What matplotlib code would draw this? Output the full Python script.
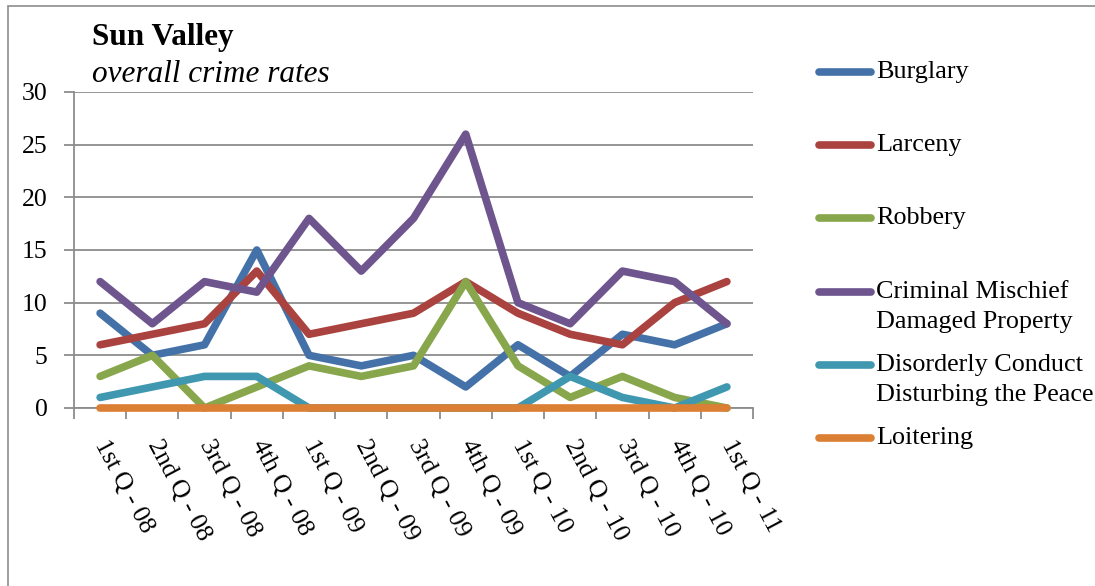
import matplotlib.pyplot as plt
import numpy as np
from matplotlib.lines import Line2D
from matplotlib.patches import Rectangle

plt.rcParams['font.family'] = ['Liberation Serif', 'DejaVu Serif']

# Datos del gráfico
quarters = ["1st Q - 08", "2nd Q - 08", "3rd Q - 08", "4th Q - 08",
            "1st Q - 09", "2nd Q - 09", "3rd Q - 09", "4th Q - 09",
            "1st Q - 10", "2nd Q - 10", "3rd Q - 10", "4th Q - 10",
            "1st Q - 11"]
burglary = [9, 5, 6, 15, 5, 4, 5, 2, 6, 3, 7, 6, 8]
larceny = [6, 7, 8, 13, 7, 8, 9, 12, 9, 7, 6, 10, 12]
robbery = [3, 5, 0, 2, 4, 3, 4, 12, 4, 1, 3, 1, 0]
mischief = [12, 8, 12, 11, 18, 13, 18, 26, 10, 8, 13, 12, 8]
disorderly = [1, 2, 3, 3, 0, 0, 0, 0, 0, 3, 1, 0, 2]
loitering = [0, 0, 0, 0, 0, 0, 0, 0, 0, 0, 0, 0, 0]

series = [
    (["Burglary"], burglary, "#4472a8"),
    (["Larceny"], larceny, "#aa4340"),
    (["Robbery"], robbery, "#88a64b"),
    (["Criminal Mischief", "Damaged Property"], mischief, "#6e558e"),
    (["Disorderly Conduct", "Disturbing the Peace"], disorderly, "#3f98b0"),
    (["Loitering"], loitering, "#db7f34"),
]

W, H = 1095, 586
fig = plt.figure(figsize=(W / 100, H / 100), dpi=100)
ax = fig.add_axes([74 / W, 1 - 408 / H, (753 - 74) / W, (408 - 92) / H])

x = np.arange(len(quarters))
for label, vals, color in series:
    ax.plot(x, vals, color=color, linewidth=5.5, solid_capstyle='round',
            solid_joinstyle='round', clip_on=False, zorder=3)

ax.set_xlim(-0.5, len(quarters) - 0.5)
ax.set_ylim(0, 30)
ax.set_yticks(range(0, 31, 5))
ax.grid(True, axis='y', color='#8c8c8c', linewidth=1.3)
ax.set_axisbelow(True)

# Ticks en los límites de las categorías
ax.set_xticks(np.arange(-0.5, len(quarters), 1), minor=True)
ax.set_xticks(x)
ax.set_xticklabels(quarters, rotation=-62, ha='left', va='center',
                   rotation_mode='anchor', fontsize=18.5)
ax.tick_params(axis='x', which='major', length=0, pad=24)
ax.tick_params(axis='x', which='minor', length=8, color='#8c8c8c', width=1.3)
ax.tick_params(axis='y', length=7, color='#8c8c8c', width=1.3, labelsize=18.5, pad=12)

for s in ['top', 'right']:
    ax.spines[s].set_visible(False)
for s in ['left', 'bottom']:
    ax.spines[s].set_color('#8c8c8c')
    ax.spines[s].set_linewidth(1.3)

# Título
fig.text(92 / W, 1 - 38 / H, "Sun Valley", fontsize=22.5, fontweight='bold',
         va='center', ha='left')
fig.text(92 / W, 1 - 75 / H, "overall crime rates", fontsize=22.5,
         style='italic', va='center', ha='left')

# Leyenda manual
legend_y = [72, 145, 218, 292, 365, 438]
for (label, vals, color), ly in zip(series, legend_y):
    fig.add_artist(Line2D([819 / W, 871 / W], [1 - ly / H, 1 - ly / H],
                          color=color, linewidth=5.5, solid_capstyle='round'))
    for i, line in enumerate(label):
        fig.text(876 / W, 1 - (ly + 30 * i) / H, line, fontsize=18.8,
                 va='center', ha='left')

# Marco del gráfico
fig.add_artist(Rectangle((8 / W, -0.1), 1.2, 1 - 6 / H + 0.1, fill=False,
                         edgecolor='#8c8c8c', linewidth=1.2,
                         transform=fig.transFigure))

plt.savefig("out.png", dpi=100)
plt.close()
